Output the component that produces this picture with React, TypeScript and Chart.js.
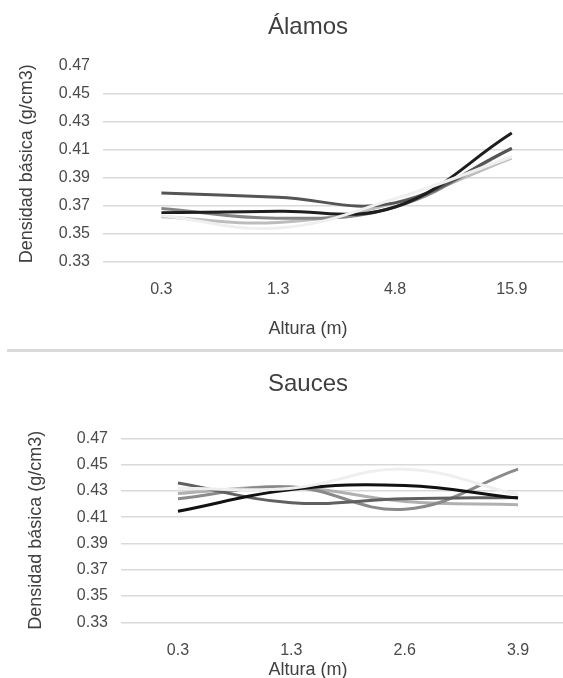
import React, { useEffect, useRef } from "react";
import { Chart, registerables } from "chart.js";

Chart.register(...registerables);

// ---------- data ----------
const alamosHeights = ["0.3", "1.3", "4.8", "15.9"];
const saucesHeights = ["0.3", "1.3", "2.6", "3.9"];

const yMin = 0.33;
const yMax = 0.47;
const yStep = 0.02;

// Álamos (poplars) – one line per tree
const alamosArbol1 = [0.363, 0.354, 0.375, 0.405];
const alamosArbol2 = [0.365, 0.366, 0.369, 0.422];
const alamosArbol3 = [0.379, 0.376, 0.372, 0.411];
const alamosArbol4 = [0.368, 0.361, 0.369, 0.411];
const alamosArbol5 = [0.362, 0.358, 0.372, 0.404];

// Sauces (willows) – one line per tree
const saucesArbol1 = [0.432, 0.432, 0.4465, 0.427];
const saucesArbol2 = [0.4145, 0.431, 0.434, 0.4245];
const saucesArbol3 = [0.436, 0.421, 0.424, 0.425];
const saucesArbol4 = [0.424, 0.433, 0.416, 0.4465];
const saucesArbol5 = [0.428, 0.433, 0.422, 0.4195];

const alamosColors = ["#efefef", "#1e1e1e", "#555555", "#858585", "#bdbdbd"];
const saucesColors = ["#efefef", "#111111", "#606060", "#8a8a8a", "#b0b0b0"];

const FONT = "'Liberation Sans', Arial, Helvetica, sans-serif";

type Geo = {
  width: number;
  height: number;
  padL: number;
  padR: number;
  padT: number;
  titleBottom: number;
  subBottom: number;
  xHeight: number;
  xPad: number;
  yWidth: number;
  yPad: number;
  yTitlePad: number;
  hideTopGrid: boolean;
};

function DensityChart(props: {
  title: string;
  labels: string[];
  series: number[][];
  colors: string[];
  geo: Geo;
}) {
  const ref = useRef<HTMLCanvasElement | null>(null);
  const { title, labels, series, colors, geo } = props;

  useEffect(() => {
    if (!ref.current) return;
    const chart = new Chart(ref.current, {
      type: "line",
      data: {
        labels,
        datasets: series.map((s, i) => ({
          label: "Árbol " + (i + 1),
          data: s,
          borderColor: colors[i],
          backgroundColor: colors[i],
          borderWidth: 3,
          pointRadius: 0,
          tension: 0.4,
          fill: false,
        })),
      },
      options: {
        animation: false,
        responsive: true,
        maintainAspectRatio: false,
        layout: {
          padding: { left: geo.padL, right: geo.padR, top: geo.padT, bottom: 0 },
        },
        plugins: {
          legend: { display: false },
          tooltip: { enabled: false },
          title: {
            display: true,
            text: title,
            fullSize: true,
            color: "#404040",
            font: { family: FONT, size: 24, weight: "normal" },
            padding: { top: 0, bottom: geo.titleBottom },
          },
          subtitle: {
            display: true,
            position: "bottom",
            text: "Altura (m)",
            color: "#404040",
            font: { family: FONT, size: 18, weight: "normal" },
            padding: { top: 0, bottom: geo.subBottom },
          },
        },
        scales: {
          x: {
            type: "category",
            offset: true,
            grid: { display: false },
            border: { display: false },
            ticks: {
              color: "#4a4a4a",
              padding: geo.xPad,
              font: { family: FONT, size: 16 },
              maxRotation: 0,
            },
            afterFit: (scale: any) => {
              scale.height = geo.xHeight;
            },
          },
          y: {
            type: "linear",
            min: yMin,
            max: yMax,
            border: { display: false },
            grid: {
              drawTicks: false,
              lineWidth: 1.5,
              color: (ctx: any) =>
                geo.hideTopGrid && ctx.tick && Math.abs(ctx.tick.value - yMax) < 1e-9
                  ? "rgba(0,0,0,0)"
                  : "#d9d9d9",
            },
            ticks: {
              stepSize: yStep,
              color: "#4a4a4a",
              padding: geo.yPad,
              font: { family: FONT, size: 16 },
              callback: (v: any) => Number(v).toFixed(2),
            },
            title: {
              display: true,
              text: "Densidad básica (g/cm3)",
              color: "#404040",
              font: { family: FONT, size: 18, weight: "normal" },
              padding: { top: geo.yTitlePad, bottom: 0 },
            },
            afterFit: (scale: any) => {
              scale.width = geo.yWidth;
            },
          },
        },
      },
    } as any);
    return () => chart.destroy();
  }, []);

  return (
    <div style={{ position: "relative", width: geo.width, height: geo.height }}>
      <canvas ref={ref} />
    </div>
  );
}

const topGeo: Geo = {
  width: 570,
  height: 341,
  padL: 37.8,
  padR: 7.8,
  padT: 4.6,
  titleBottom: 24.6,
  subBottom: 9.2,
  xHeight: 56.7,
  xPad: 10.9,
  yWidth: 57.2,
  yPad: 13,
  yTitlePad: -29.6,
  hideTopGrid: true,
};

const bottomGeo: Geo = {
  width: 575,
  height: 330,
  padL: 33.3,
  padR: 8.3,
  padT: 17.6,
  titleBottom: 39.9,
  subBottom: 1.2,
  xHeight: 36.9,
  xPad: 11.1,
  yWidth: 80,
  yPad: 13.3,
  yTitlePad: -16.1,
  hideTopGrid: false,
};

export default function App() {
  return (
    <div
      style={{
        position: "absolute",
        left: 0,
        top: 0,
        width: 563,
        height: 678,
        overflow: "hidden",
        background: "#ffffff",
      }}
    >
      <div style={{ position: "absolute", left: 8, top: 8 }}>
        <DensityChart
          title="Álamos"
          labels={alamosHeights}
          series={[alamosArbol1, alamosArbol2, alamosArbol3, alamosArbol4, alamosArbol5]}
          colors={alamosColors}
          geo={topGeo}
        />
      </div>
      <div
        style={{
          position: "absolute",
          left: 7,
          top: 349,
          width: 556,
          height: 3,
          background: "#dadada",
        }}
      />
      <div style={{ position: "absolute", left: 8, top: 352 }}>
        <DensityChart
          title="Sauces"
          labels={saucesHeights}
          series={[saucesArbol1, saucesArbol2, saucesArbol3, saucesArbol4, saucesArbol5]}
          colors={saucesColors}
          geo={bottomGeo}
        />
      </div>
    </div>
  );
}
